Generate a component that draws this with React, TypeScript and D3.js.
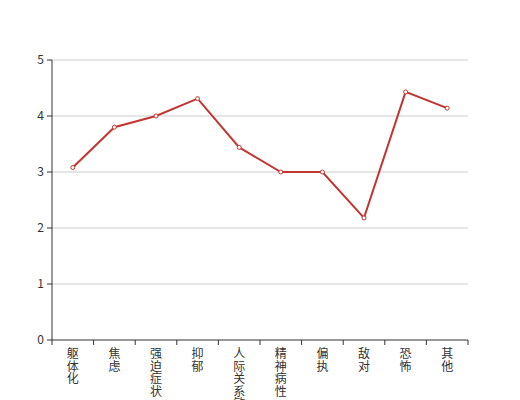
import React from "react";
import * as d3 from "d3";

const categories = ["躯体化", "焦虑", "强迫症状", "抑郁", "人际关系敏感", "精神病性", "偏执", "敌对", "恐怖", "其他"];
const values = [3.08, 3.8, 4.0, 4.31, 3.44, 3.0, 3.0, 2.18, 4.43, 4.14];
const yTicks = [0, 1, 2, 3, 4, 5];

export default function App() {
  const width = 520, height = 400;
  const left = 52, right = 468, top = 60, bottom = 340;
  const x = d3.scaleBand<string>().domain(categories).range([left, right]);
  const y = d3.scaleLinear().domain([0, 5]).range([bottom, top]);
  const line = d3.line<number>().x((_, i) => x(categories[i])! + x.bandwidth() / 2).y(d => y(d));
  const boundaries = categories.map(c => x(c)!).concat([right]);
  const font = "'Noto Sans CJK SC', 'Noto Sans', sans-serif";
  return (
    <svg width={width} height={height} style={{ position: "absolute", left: 0, top: 0 }}>
      {yTicks.map(t => (
        <g key={t}>
          {t > 0 && <line x1={left} x2={right} y1={y(t)} y2={y(t)} stroke="#ccc" strokeWidth={1} />}
          <line x1={left - 5} x2={left} y1={y(t)} y2={y(t)} stroke="#333" />
          <text x={left - 8} y={y(t)} dy="0.35em" textAnchor="end" fontSize={12} fill="#333" fontFamily={font}>{t}</text>
        </g>
      ))}
      <line x1={left} x2={left} y1={top} y2={bottom} stroke="#333" />
      <line x1={left} x2={right} y1={bottom} y2={bottom} stroke="#333" />
      {boundaries.map((b, i) => (
        <line key={i} x1={b} x2={b} y1={bottom} y2={bottom + 5} stroke="#333" />
      ))}
      {categories.map(c => (
        <text key={c} x={x(c)! + x.bandwidth() / 2} y={bottom + 18} textAnchor="middle" fontSize={12} fill="#333" fontFamily={font}>
          {c.split("").map((ch, i) => (
            <tspan key={i} x={x(c)! + x.bandwidth() / 2} dy={i === 0 ? 0 : 12.5}>{ch}</tspan>
          ))}
        </text>
      ))}
      <path d={line(values)!} fill="none" stroke="#c23531" strokeWidth={2} />
      {values.map((v, i) => (
        <circle key={i} cx={x(categories[i])! + x.bandwidth() / 2} cy={y(v)} r={2} fill="#fff" stroke="#c23531" strokeWidth={1} />
      ))}
    </svg>
  );
}
